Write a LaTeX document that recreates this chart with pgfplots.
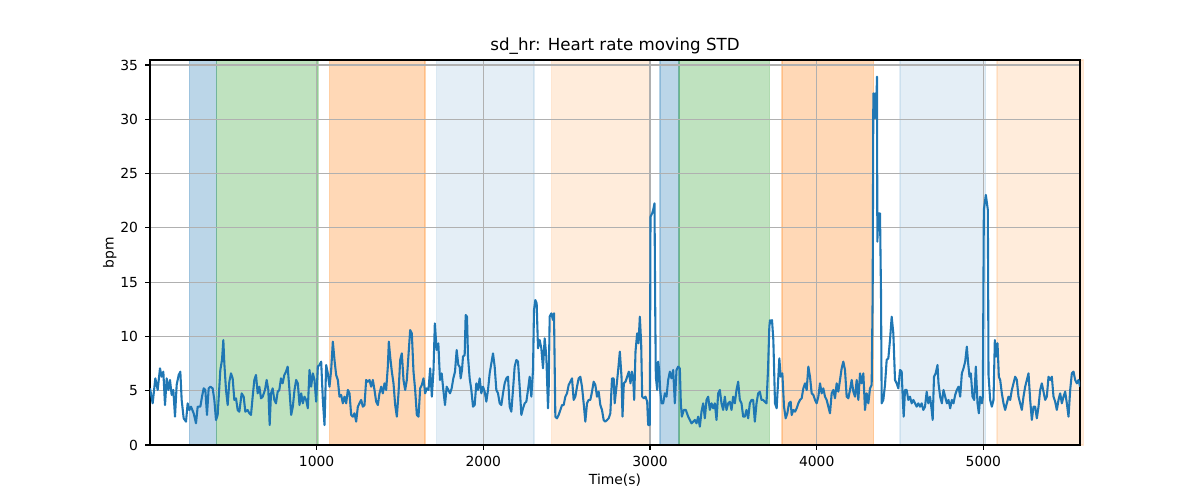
\documentclass[border=0pt]{standalone}
\usepackage{fontspec}
\setmainfont{DejaVu Sans}
\usepackage{pgfplots}
\pgfplotsset{compat=1.18}
\definecolor{c0}{HTML}{1F77B4}
\definecolor{c1}{HTML}{FF7F0E}
\definecolor{c2}{HTML}{2CA02C}
\definecolor{gridc}{HTML}{B0B0B0}
\begin{document}
\begin{tikzpicture}
\begin{axis}[
  set layers=standard,
  at={(0,0)}, anchor=south west,
  scale only axis, width=669.6pt, height=277.2pt,
  xmin=0, xmax=5580, ymin=0, ymax=35.46,
  xtick={1000,2000,3000,4000,5000},
  ytick={0,5,10,15,20,25,30,35},
  /pgf/number format/assume math mode=true,
  /pgf/number format/set thousands separator={},
  tick align=outside, major tick length=3.5pt,
  tick style={line width=0.8pt, black},
  xtick pos=bottom, ytick pos=left,
  axis line style={line width=0.8pt},
  grid=major, major grid style={line width=0.8pt, gridc},
  xticklabel style={inner sep=0pt},
  yticklabel style={inner sep=0pt},
  xticklabel shift=4.4pt,
  yticklabel shift=4.9pt,
  every axis title/.style={at={(axis description cs:0.5,1)}, anchor=base, inner sep=0pt, yshift=6.5pt, font=\fontsize{12}{14}\selectfont},
  every axis x label/.style={at={(axis description cs:0.5,0)}, anchor=base, inner sep=0pt, yshift=-28.4pt},
  every axis y label/.style={at={(axis description cs:-0.039,0.5)}, rotate=90, anchor=base, inner sep=0pt},
  title={sd\_hr: Heart rate moving STD},
  xlabel={Time(s)},
  ylabel={bpm},
]
% shaded spans
\addplot[on layer=axis background, fill=c0, fill opacity=0.3, draw=c0, draw opacity=0.3, line width=1pt] coordinates {(236,0) (236,35.46) (400,35.46) (400,0)} \closedcycle;
\addplot[on layer=axis background, fill=c2, fill opacity=0.3, draw=c2, draw opacity=0.3, line width=1pt] coordinates {(400,0) (400,35.46) (1007,35.46) (1007,0)} \closedcycle;
\addplot[on layer=axis background, fill=c1, fill opacity=0.3, draw=c1, draw opacity=0.3, line width=1pt] coordinates {(1077,0) (1077,35.46) (1651,35.46) (1651,0)} \closedcycle;
\addplot[on layer=axis background, fill=c0, fill opacity=0.12, draw=c0, draw opacity=0.12, line width=1pt] coordinates {(1720,0) (1720,35.46) (2305,35.46) (2305,0)} \closedcycle;
\addplot[on layer=axis background, fill=c1, fill opacity=0.15, draw=c1, draw opacity=0.15, line width=1pt] coordinates {(2410,0) (2410,35.46) (3000,35.46) (3000,0)} \closedcycle;
\addplot[on layer=axis background, fill=c0, fill opacity=0.3, draw=c0, draw opacity=0.3, line width=1pt] coordinates {(3059,0) (3059,35.46) (3175,35.46) (3175,0)} \closedcycle;
\addplot[on layer=axis background, fill=c2, fill opacity=0.3, draw=c2, draw opacity=0.3, line width=1pt] coordinates {(3175,0) (3175,35.46) (3716,35.46) (3716,0)} \closedcycle;
\addplot[on layer=axis background, fill=c1, fill opacity=0.3, draw=c1, draw opacity=0.3, line width=1pt] coordinates {(3793,0) (3793,35.46) (4342,35.46) (4342,0)} \closedcycle;
\addplot[on layer=axis background, fill=c0, fill opacity=0.12, draw=c0, draw opacity=0.12, line width=1pt] coordinates {(4500,0) (4500,35.46) (5013,35.46) (5013,0)} \closedcycle;
\addplot[on layer=axis background, fill=c1, fill opacity=0.15, draw=c1, draw opacity=0.15, line width=1pt] coordinates {(5083,0) (5083,35.46) (5600,35.46) (5600,0)} \closedcycle;
% heart rate moving STD
\addplot[c0, line width=1.5pt, line join=round, mark=none] coordinates {
(0,5.22)(16,3.84)(32,6.14)(46,5.07)(60,7.06)(70,6.29)(80,6.75)(90,3.68)(100,6.14)(110,5.07)(120,5.99)(130,4.61)(140,5.07)(150,2.61)(160,5.53)(172,6.45)(182,6.75)(190,4.15)(202,2.46)(216,2.15)(226,3.84)(236,3.22)(246,3.53)(262,2.92)(276,2.0)(286,3.53)(302,3.53)(312,4.45)(322,5.22)(332,5.07)(342,2.77)(352,5.22)(362,5.37)(376,5.22)(386,4.15)(396,2.3)(406,2.77)(422,6.91)(432,7.83)(440,9.67)(446,7.52)(456,5.07)(466,3.68)(476,5.83)(486,6.6)(496,6.14)(506,4.15)(516,4.3)(526,3.22)(536,3.07)(550,4.76)(562,4.45)(572,3.07)(586,3.22)(596,2.92)(606,2.77)(616,4.45)(626,5.99)(636,6.45)(646,4.76)(656,5.37)(666,4.3)(676,4.45)(690,5.07)(700,5.99)(710,5.07)(718,1.84)(726,4.76)(736,5.22)(746,4.15)(756,3.84)(766,4.91)(776,5.07)(786,6.14)(796,5.68)(806,6.45)(816,6.75)(826,7.22)(836,5.22)(847,2.77)(857,3.53)(867,5.07)(877,5.99)(887,5.68)(897,3.68)(907,4.76)(917,3.84)(927,4.45)
(937,4.15)(947,3.38)(957,6.91)(967,5.37)(977,6.6)(987,5.99)(997,3.99)(1007,7.22)(1017,7.37)(1027,7.68)(1037,4.15)(1047,1.84)(1057,7.37)(1067,6.6)(1077,5.37)(1087,6.91)(1097,9.52)(1107,7.83)(1117,6.45)(1127,5.99)(1137,4.45)(1147,4.61)(1157,3.84)(1167,4.45)(1177,3.84)(1187,5.07)(1197,4.76)(1207,2.77)(1217,2.61)(1227,2.92)(1237,2.15)(1247,3.53)(1257,3.84)(1267,4.15)(1277,3.53)(1287,3.68)(1297,5.99)(1307,5.83)(1317,5.99)(1327,5.37)(1337,5.99)(1347,5.07)(1357,3.99)(1367,3.68)(1377,4.76)(1387,5.37)(1397,4.76)(1407,5.68)(1417,5.07)(1427,7.22)(1433,9.52)(1441,8.14)(1451,6.75)(1461,5.68)(1471,3.68)(1481,2.61)(1491,4.76)(1501,7.83)(1511,8.44)(1521,5.99)(1531,5.07)(1541,5.99)(1551,8.29)(1561,10.59)(1571,10.29)(1581,6.75)(1591,5.07)(1601,2.77)(1611,2.61)(1621,5.22)(1631,5.53)(1641,6.14)(1651,4.76)(1661,5.22)(1671,5.07)(1681,7.06)(1691,4.45)(1701,6.91)(1709,11.2)(1720,8.75)(1730,9.36)(1740,5.99)(1750,6.6)(1760,5.07)(1770,3.68)(1780,5.37)(1790,5.07)(1800,4.76)(1810,5.22)(1820,6.14)(1830,6.75)(1840,8.75)(1850,7.37)(1858,7.22)
(1864,6.14)(1872,6.91)(1878,8.14)(1888,8.29)(1894,11.97)(1902,11.82)(1908,8.14)(1918,6.14)(1928,5.07)(1938,3.53)(1948,3.68)(1958,5.68)(1968,5.07)(1978,6.14)(1988,4.76)(1998,5.37)(2008,4.91)(2018,3.99)(2028,5.07)(2038,6.6)(2048,7.52)(2058,8.44)(2068,7.22)(2078,5.07)(2088,4.76)(2098,3.84)(2108,3.68)(2118,4.76)(2128,5.68)(2138,6.14)(2148,6.29)(2158,3.53)(2168,3.07)(2178,5.07)(2188,7.22)(2198,7.83)(2208,7.68)(2218,5.37)(2228,2.77)(2238,3.38)(2248,3.84)(2258,3.99)(2268,5.07)(2278,6.29)(2288,4.45)(2298,6.91)(2304,12.43)(2312,13.35)(2320,13.05)(2328,8.9)(2338,9.67)(2348,8.9)(2358,7.06)(2368,9.82)(2378,8.14)(2388,3.38)(2392,5.07)(2398,11.82)(2408,12.13)(2418,11.51)(2424,12.13)(2432,2.61)(2442,2.46)(2452,2.77)(2462,3.22)(2472,3.68)(2482,3.68)(2492,4.45)(2502,4.76)(2512,5.53)(2522,5.83)(2532,6.14)(2542,4.15)(2552,4.45)(2562,5.37)(2572,6.14)(2582,6.29)(2592,5.37)(2602,3.84)(2612,2.15)(2622,3.84)(2632,4.15)(2642,4.15)(2652,4.91)(2662,5.83)(2672,5.53)(2682,4.45)(2692,4.91)(2702,3.68)(2712,3.22)(2722,2.3)(2732,2.15)(2742,2.3)(2752,2.46)(2762,2.92)(2772,6.14)(2782,6.14)(2788,3.84)
(2799,5.37)(2809,6.91)(2819,8.6)(2829,6.29)(2835,2.61)(2843,5.68)(2853,5.83)(2863,6.29)(2873,6.76)(2883,5.68)(2891,6.76)(2899,6.14)(2905,4.15)(2913,8.6)(2923,10.29)(2931,9.37)(2939,11.82)(2947,9.37)(2953,4.45)(2963,4.3)(2973,4.45)(2983,3.99)(2989,1.84)(2999,1.84)(3003,21.03)(3013,21.34)(3019,21.65)(3027,22.26)(3031,13.05)(3035,6.29)(3043,5.07)(3049,7.68)(3055,6.91)(3061,5.07)(3069,3.84)(3079,3.84)(3089,4.76)(3099,4.45)(3109,5.99)(3119,6.76)(3129,6.14)(3139,6.91)(3149,3.84)(3159,6.91)(3169,7.22)(3179,7.06)(3185,3.84)(3191,2.61)(3203,3.23)(3215,3.23)(3229,2.61)(3239,2.31)(3249,2.0)(3259,2.15)(3269,2.31)(3279,2.0)(3289,2.61)(3299,1.69)(3309,3.07)(3319,3.84)(3329,2.46)(3339,4.15)(3349,4.45)(3359,3.23)(3369,3.84)(3379,3.38)(3389,3.84)(3399,2.31)(3409,4.76)(3419,5.07)(3429,3.84)(3439,3.23)(3449,4.45)(3459,3.23)(3469,3.84)(3479,3.99)(3489,3.23)(3499,4.45)(3509,3.84)(3519,5.07)(3529,5.83)(3539,4.15)(3549,3.84)(3559,2.61)(3569,2.61)(3579,3.23)(3589,2.46)(3599,3.84)(3609,4.15)(3619,4.15)(3629,2.15)(3639,3.84)(3649,4.76)(3659,4.91)(3669,4.15)(3679,4.15)(3689,3.99)(3699,3.84)(3708,6.91)(3716,10.9)(3720,11.5)
(3724,11.21)(3732,11.51)(3740,9.67)(3750,3.84)(3760,3.38)(3770,6.29)(3776,7.98)(3784,6.29)(3794,6.6)(3804,3.53)(3814,2.46)(3824,2.92)(3834,3.84)(3844,3.99)(3850,2.76)(3860,3.23)(3870,3.07)(3880,3.38)(3890,3.84)(3900,4.15)(3910,4.3)(3920,5.22)(3930,5.68)(3940,5.07)(3950,7.22)(3960,6.29)(3970,4.76)(3980,4.61)(3990,4.15)(4000,3.84)(4010,4.45)(4020,5.68)(4030,4.76)(4040,5.22)(4050,4.45)(4060,4.15)(4070,3.53)(4080,2.92)(4090,4.76)(4100,5.07)(4110,4.3)(4120,5.68)(4130,4.91)(4140,5.99)(4150,7.06)(4160,7.68)(4170,6.91)(4180,4.45)(4190,4.3)(4200,5.07)(4210,5.99)(4220,4.91)(4230,4.45)(4240,5.99)(4250,4.15)(4260,6.6)(4270,5.68)(4280,6.6)(4290,3.23)(4300,4.76)(4310,3.84)(4320,5.22)(4330,5.53)(4336,13.97)(4340,32.39)(4346,30.09)(4350,32.39)(4356,30.09)(4362,33.93)(4364,18.73)(4370,21.34)(4380,21.34)(4386,13.97)(4390,3.84)(4400,4.15)(4410,5.53)(4420,7.83)(4430,7.98)(4440,9.67)(4450,11.82)(4460,10.29)(4470,5.99)(4480,5.68)(4490,5.22)(4500,6.91)(4510,6.76)(4516,4.45)(4522,2.61)(4530,5.07)(4540,5.07)(4550,4.15)(4560,4.45)(4570,3.84)(4580,4.15)(4590,3.84)(4600,3.53)(4610,3.84)(4620,3.53)(4630,3.84)(4640,3.23)(4650,3.53)
(4660,4.91)(4670,3.84)(4680,4.45)(4690,3.23)(4696,2.31)(4704,6.29)(4714,6.6)(4725,7.37)(4731,5.68)(4741,4.45)(4751,3.84)(4761,5.07)(4771,4.45)(4781,3.84)(4791,4.15)(4801,3.38)(4811,4.15)(4821,3.84)(4831,4.61)(4841,5.07)(4851,5.37)(4861,4.45)(4871,6.6)(4881,7.06)(4891,7.68)(4901,9.06)(4909,7.52)(4917,6.29)(4925,6.6)(4935,4.45)(4945,4.15)(4955,7.22)(4965,3.84)(4973,2.92)(4981,4.45)(4991,3.84)(4997,4.45)(5003,21.65)(5015,23.03)(5027,21.65)(5031,6.45)(5041,4.15)(5051,3.53)(5061,4.15)(5069,9.67)(5077,8.14)(5085,9.37)(5093,6.29)(5101,5.99)(5111,4.76)(5121,3.84)(5131,3.23)(5141,3.84)(5151,4.45)(5161,4.15)(5171,5.07)(5181,5.68)(5191,6.29)(5201,5.99)(5211,4.45)(5221,3.84)(5231,3.23)(5241,4.45)(5251,5.37)(5261,5.99)(5271,6.6)(5281,4.15)(5291,2.31)(5301,3.53)(5311,3.53)(5321,2.46)(5331,3.53)(5341,5.07)(5351,5.68)(5361,4.91)(5371,4.15)(5381,4.45)(5391,6.29)(5401,5.99)(5411,6.29)(5421,4.45)(5431,3.99)(5441,3.23)(5451,4.15)(5461,4.76)(5471,3.84)(5481,4.45)(5491,4.91)(5501,3.84)(5511,2.61)(5521,5.07)(5531,6.6)(5541,6.76)(5551,5.99)(5561,5.68)(5571,5.99)(5581,5.37)
};
\end{axis}
\pgfresetboundingbox
\path[use as bounding box] (-108pt,-39.6pt) rectangle (756pt,320.4pt);
\end{tikzpicture}
\end{document}
